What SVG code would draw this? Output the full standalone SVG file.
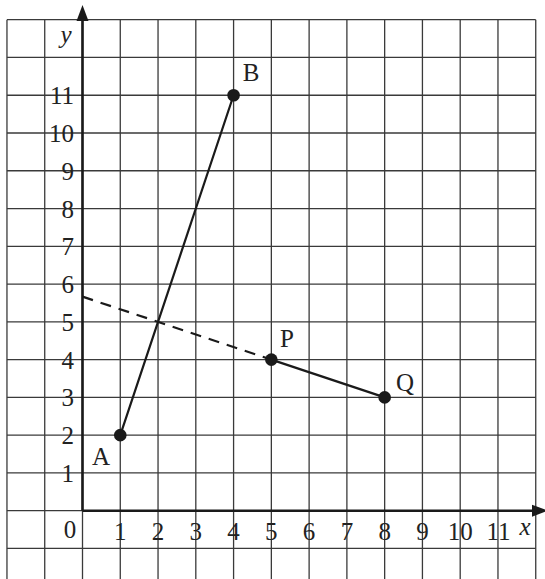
<svg xmlns="http://www.w3.org/2000/svg" width="545" height="579" viewBox="0 0 545 579">
<style>
.grid line{stroke:#3a3a3a;stroke-width:1.3}
.axis{stroke:#1a1a1a;stroke-width:2.6;fill:none}
.head{fill:#1a1a1a}
.seg{stroke:#1a1a1a;stroke-width:2.2;fill:none}
.dash{stroke:#1a1a1a;stroke-width:2.2;fill:none;stroke-dasharray:11 8}
.dot{fill:#1a1a1a}
text{font-family:"Liberation Serif","Times New Roman",serif;font-size:25px;fill:#222}
.yl{text-anchor:end}
.xl{text-anchor:middle}
.it{font-style:italic}
</style>
<rect width="545" height="579" fill="#fff"/>
<g class="grid" id="grid">
<line x1="6.96" y1="19.69" x2="6.96" y2="579"/>
<line x1="44.73" y1="19.69" x2="44.73" y2="579"/>
<line x1="82.5" y1="19.69" x2="82.5" y2="579"/>
<line x1="120.27" y1="19.69" x2="120.27" y2="579"/>
<line x1="158.04" y1="19.69" x2="158.04" y2="579"/>
<line x1="195.81" y1="19.69" x2="195.81" y2="579"/>
<line x1="233.58" y1="19.69" x2="233.58" y2="579"/>
<line x1="271.35" y1="19.69" x2="271.35" y2="579"/>
<line x1="309.12" y1="19.69" x2="309.12" y2="579"/>
<line x1="346.89" y1="19.69" x2="346.89" y2="579"/>
<line x1="384.66" y1="19.69" x2="384.66" y2="579"/>
<line x1="422.43" y1="19.69" x2="422.43" y2="579"/>
<line x1="460.2" y1="19.69" x2="460.2" y2="579"/>
<line x1="497.97" y1="19.69" x2="497.97" y2="579"/>
<line x1="535.74" y1="19.69" x2="535.74" y2="579"/>
<line x1="6.96" y1="19.69" x2="535.74" y2="19.69"/>
<line x1="6.96" y1="57.46" x2="535.74" y2="57.46"/>
<line x1="6.96" y1="95.23" x2="535.74" y2="95.23"/>
<line x1="6.96" y1="133" x2="535.74" y2="133"/>
<line x1="6.96" y1="170.77" x2="535.74" y2="170.77"/>
<line x1="6.96" y1="208.54" x2="535.74" y2="208.54"/>
<line x1="6.96" y1="246.31" x2="535.74" y2="246.31"/>
<line x1="6.96" y1="284.08" x2="535.74" y2="284.08"/>
<line x1="6.96" y1="321.85" x2="535.74" y2="321.85"/>
<line x1="6.96" y1="359.62" x2="535.74" y2="359.62"/>
<line x1="6.96" y1="397.39" x2="535.74" y2="397.39"/>
<line x1="6.96" y1="435.16" x2="535.74" y2="435.16"/>
<line x1="6.96" y1="472.93" x2="535.74" y2="472.93"/>
<line x1="6.96" y1="510.7" x2="535.74" y2="510.7"/>
<line x1="6.96" y1="548.47" x2="535.74" y2="548.47"/>
</g>
<g id="axes">
<line class="axis" x1="82.5" y1="510.7" x2="82.5" y2="16"/>
<polygon class="head" points="82.5,5 88.5,21 76.5,21"/>
<line class="axis" x1="82.5" y1="510.7" x2="536" y2="510.7"/>
<polygon class="head" points="548,510.7 532,504.7 532,516.7"/>
</g>
<g id="connectors">
<line class="seg" x1="120.27" y1="435.16" x2="233.58" y2="95.23"/>
<line class="seg" x1="271.35" y1="359.62" x2="384.66" y2="397.39"/>
<line class="dash" x1="82.5" y1="296.66" x2="271.35" y2="359.62"/>
</g>
<g id="ylabels">
<text class="yl" x="74" y="104.2">11</text>
<text class="yl" x="74" y="142">10</text>
<text class="yl" x="74" y="179.8">9</text>
<text class="yl" x="74" y="217.5">8</text>
<text class="yl" x="74" y="255.3">7</text>
<text class="yl" x="74" y="293.1">6</text>
<text class="yl" x="74" y="330.9">5</text>
<text class="yl" x="74" y="368.6">4</text>
<text class="yl" x="74" y="406.4">3</text>
<text class="yl" x="74" y="444.2">2</text>
<text class="yl" x="74" y="481.9">1</text>
<text class="xl" x="70" y="537.5">0</text>
<text class="xl it" x="66" y="43">y</text>
</g>
<g id="xlabels">
<text class="xl" x="120.27" y="540">1</text>
<text class="xl" x="158.04" y="540">2</text>
<text class="xl" x="195.81" y="540">3</text>
<text class="xl" x="233.58" y="540">4</text>
<text class="xl" x="271.35" y="540">5</text>
<text class="xl" x="309.12" y="540">6</text>
<text class="xl" x="346.89" y="540">7</text>
<text class="xl" x="384.66" y="540">8</text>
<text class="xl" x="422.43" y="540">9</text>
<text class="xl" x="460.2" y="540">10</text>
<text class="xl" x="498.5" y="540">11</text>
<text class="xl it" x="525" y="535">x</text>
</g>
<g id="A"><circle class="dot" cx="120.27" cy="435.16" r="6.3"/><text class="xl" x="101" y="465">A</text></g>
<g id="B"><circle class="dot" cx="233.58" cy="95.23" r="6.3"/><text class="xl" x="251" y="81">B</text></g>
<g id="P"><circle class="dot" cx="271.35" cy="359.62" r="6.3"/><text class="xl" x="287" y="347">P</text></g>
<g id="Q"><circle class="dot" cx="384.66" cy="397.39" r="6.3"/><text class="xl" x="405" y="391">Q</text></g>
</svg>
